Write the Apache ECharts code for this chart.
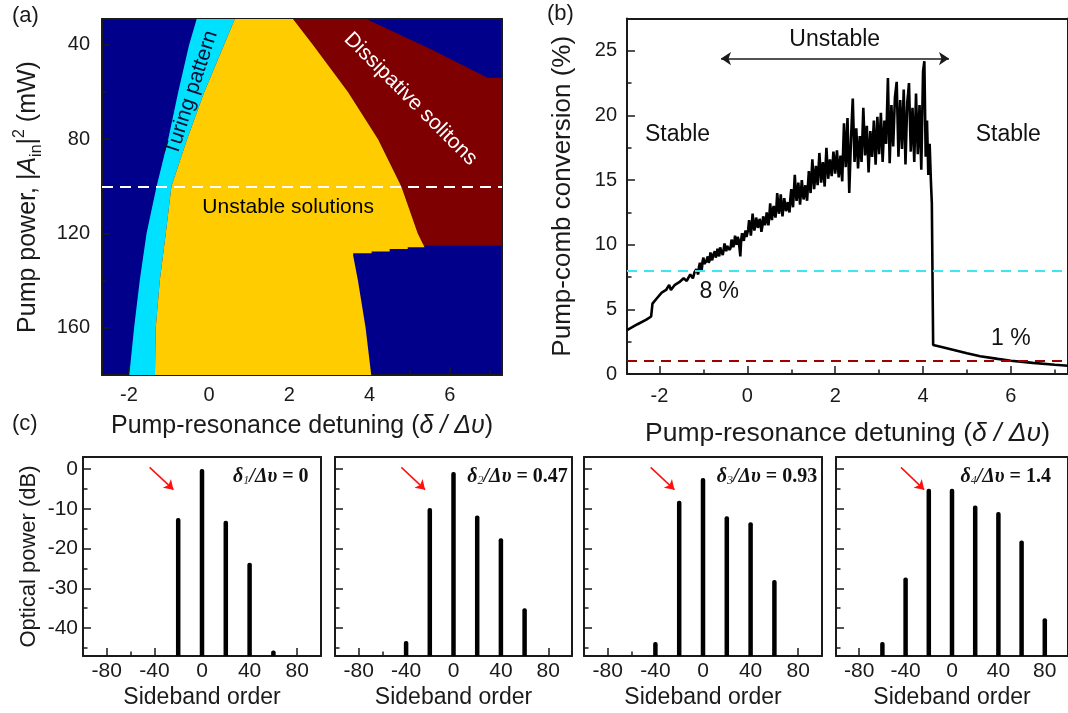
<!DOCTYPE html>
<html>
<head>
<meta charset="utf-8">
<script src="https://cdn.jsdelivr.net/npm/echarts@6/dist/echarts.min.js"></script>
<style>
  html, body { margin: 0; padding: 0; background: #fff; }
  #main { width: 1068px; height: 713px; }
</style>
</head>
<body>
<div id="main"></div>
<script>
const ink = '#1a1a1a';
const sans = '"Liberation Sans", Arial, sans-serif';
const serif = '"Liberation Serif", "Times New Roman", serif';

// (a) phase diagram: detuning of each region boundary at a given pump power (mW)
const powerLevels = [29, 40, 60, 80, 100, 120, 140, 160, 180];
const turingLeft  = [-0.31, -0.50, -0.77, -1.02, -1.31, -1.56, -1.73, -1.87, -1.99];
const turingRight = [0.64, 0.37, -0.12, -0.55, -0.94, -1.08, -1.23, -1.33, -1.35];
const unstableUpperEdge = [[2.09, 29], [2.59, 40], [3.46, 60], [4.21, 80], [4.79, 100], [5.2, 120], [5.37, 125.8]];
const unstableStep = [[4.95, 125.8], [4.95, 126.6], [4.5, 126.6], [4.5, 127.6], [4.05, 127.6], [4.05, 128.4], [3.59, 128.4]];
const unstableLowerEdge = [[3.59, 129.3], [3.71, 140], [3.9, 160], [4.04, 180]];
const solitonUpperEdge = [[3.92, 29], [5.57, 42.2], [6.94, 53.9], [7.3, 53.9]];
const solitonFloor = 125.2;
const scanPower = 100;

// (b) pump-to-comb conversion (%) vs detuning
const conversionCurve = [
  [-2.74, 3.4], [-2.5, 3.85], [-2.3, 4.2], [-2.19, 4.45], [-2.16, 5.45], [-2.05, 5.9], [-1.95, 6.3],
  [-1.85, 6.5], [-1.78, 6.9], [-1.74, 6.5], [-1.65, 6.9], [-1.55, 7.1], [-1.45, 7.4], [-1.38, 7.2],
  [-1.3, 7.7], [-1.24, 7.4], [-1.2, 7.9],
  [-1.16, 8.1], [-1.14, 7.9], [-1.12, 7.7], [-1.1, 8.3], [-1.08, 8.6], [-1.06, 8.2], [-1.04, 8.0],
  [-1.02, 8.7], [-1.0, 9.0], [-0.98, 8.5], [-0.96, 8.4], [-0.94, 8.7], [-0.92, 8.9], [-0.9, 9.1],
  [-0.88, 8.6], [-0.86, 8.8], [-0.84, 9.4], [-0.82, 9.0], [-0.8, 8.8], [-0.78, 9.2], [-0.76, 9.3],
  [-0.74, 9.5], [-0.72, 9.0], [-0.7, 9.2], [-0.68, 9.7], [-0.66, 9.4], [-0.64, 9.1], [-0.62, 9.8],
  [-0.6, 9.6], [-0.58, 9.4], [-0.56, 9.2], [-0.54, 9.6], [-0.52, 10.1], [-0.5, 9.8], [-0.48, 9.5],
  [-0.46, 9.9], [-0.44, 10.0], [-0.42, 9.9], [-0.4, 9.6], [-0.38, 9.8], [-0.36, 10.4], [-0.34, 10.2],
  [-0.32, 9.8], [-0.3, 10.1], [-0.28, 10.7], [-0.26, 10.2], [-0.24, 10.0], [-0.22, 10.6], [-0.2, 10.4],
  [-0.18, 9.8], [-0.16, 9.1], [-0.14, 10.4], [-0.12, 10.9], [-0.1, 10.5], [-0.08, 10.3], [-0.06, 10.8],
  [-0.04, 11.1], [-0.02, 10.6], [0.0, 10.5], [0.02, 11.2], [0.04, 11.9], [0.06, 11.3], [0.08, 10.7],
  [0.1, 11.5], [0.12, 12.4], [0.14, 11.6], [0.16, 11.1], [0.18, 11.5], [0.2, 12.1], [0.22, 11.8],
  [0.24, 11.3], [0.26, 11.5], [0.28, 12.0], [0.3, 11.7], [0.32, 11.0], [0.34, 11.4], [0.36, 12.2],
  [0.38, 11.9], [0.4, 11.5], [0.42, 11.8], [0.44, 12.5], [0.46, 12.1], [0.48, 11.5], [0.5, 12.2],
  [0.52, 13.2], [0.54, 12.4], [0.56, 11.9], [0.58, 12.7], [0.6, 13.0], [0.62, 12.4], [0.64, 12.1],
  [0.66, 12.8], [0.68, 14.0], [0.7, 13.2], [0.72, 12.4], [0.74, 12.9], [0.76, 13.9], [0.78, 13.0],
  [0.8, 12.2], [0.82, 12.9], [0.84, 13.6], [0.86, 13.1], [0.88, 12.6], [0.9, 12.9], [0.92, 13.3],
  [0.94, 12.8], [0.96, 12.5], [0.98, 13.6], [1.0, 14.3], [1.02, 13.4], [1.04, 12.9], [1.06, 14.1],
  [1.08, 15.4], [1.1, 14.2], [1.12, 13.4], [1.14, 14.0], [1.16, 14.8], [1.18, 14.0], [1.2, 13.1],
  [1.22, 14.1], [1.24, 15.0], [1.26, 14.2], [1.28, 13.5], [1.3, 14.0], [1.32, 14.6], [1.34, 13.9],
  [1.36, 13.4], [1.38, 14.6], [1.4, 15.7], [1.42, 14.8], [1.44, 14.0], [1.46, 15.3], [1.48, 16.6],
  [1.5, 15.4], [1.52, 14.3], [1.54, 15.1], [1.56, 16.1], [1.58, 15.4], [1.6, 14.6], [1.62, 15.8],
  [1.64, 17.1], [1.66, 16.0], [1.68, 14.8], [1.7, 15.6], [1.72, 16.4], [1.74, 15.5], [1.76, 14.5],
  [1.78, 16.0], [1.8, 17.5], [1.82, 16.3], [1.84, 15.1], [1.86, 15.8], [1.88, 16.6], [1.9, 16.0],
  [1.92, 15.3], [1.94, 16.2], [1.96, 17.2], [1.98, 16.4], [2.0, 15.5], [2.02, 16.4], [2.04, 17.3],
  [2.06, 16.2], [2.08, 15.2], [2.1, 16.0], [2.12, 16.9], [2.14, 15.8], [2.16, 14.9], [2.18, 17.2],
  [2.2, 19.4], [2.22, 17.6], [2.24, 16.0], [2.26, 18.0], [2.28, 19.8], [2.3, 17.0], [2.32, 14.0],
  [2.34, 16.1], [2.36, 18.2], [2.38, 19.8], [2.4, 21.3], [2.42, 18.8], [2.44, 16.4], [2.46, 17.6],
  [2.48, 19.0], [2.5, 17.4], [2.52, 15.9], [2.54, 17.2], [2.56, 18.4], [2.58, 17.3], [2.6, 16.4],
  [2.62, 18.4], [2.64, 20.6], [2.66, 18.8], [2.68, 16.9], [2.7, 18.0], [2.72, 19.2], [2.74, 17.4],
  [2.76, 15.6], [2.78, 17.2], [2.8, 18.8], [2.82, 17.8], [2.84, 16.8], [2.86, 18.2], [2.88, 19.6],
  [2.9, 17.9], [2.92, 16.2], [2.94, 18.0], [2.96, 19.9], [2.98, 18.4], [3.0, 17.0], [3.02, 18.6],
  [3.04, 20.2], [3.06, 18.3], [3.08, 16.4], [3.1, 18.0], [3.12, 19.6], [3.14, 18.7], [3.16, 17.8],
  [3.18, 20.3], [3.2, 22.9], [3.22, 19.6], [3.24, 16.3], [3.26, 18.5], [3.28, 20.8], [3.3, 19.2],
  [3.32, 17.6], [3.34, 19.5], [3.36, 21.4], [3.38, 22.0], [3.4, 22.6], [3.42, 19.7], [3.44, 16.8],
  [3.46, 19.0], [3.48, 21.2], [3.5, 19.3], [3.52, 17.4], [3.54, 19.7], [3.56, 22.0], [3.58, 19.1],
  [3.6, 16.2], [3.62, 18.6], [3.64, 21.0], [3.66, 21.7], [3.68, 22.5], [3.7, 19.8], [3.72, 17.2],
  [3.74, 18.9], [3.76, 20.6], [3.78, 18.5], [3.8, 16.4], [3.82, 19.0], [3.84, 21.7], [3.86, 19.3],
  [3.88, 17.0], [3.9, 18.9], [3.92, 20.8], [3.94, 18.3], [3.96, 15.8], [3.98, 19.6], [4.0, 23.4],
  [4.03, 24.2], [4.045, 20.5], [4.06, 16.8], [4.075, 18.2], [4.09, 19.6], [4.105, 17.5], [4.12, 15.4],
  [4.135, 16.6], [4.15, 17.8], [4.165, 16.3], [4.18, 14.8], [4.2, 13.2], [4.23, 2.24],
  [4.4, 2.1], [4.7, 1.85], [5.0, 1.6], [5.3, 1.38], [5.7, 1.17], [6.0, 1.03], [6.5, 0.86],
  [7.0, 0.72], [7.3, 0.64]
];
const stableLevel = 8;
const solitonLevel = 1;

// (c) optical spectra (dB) at four detunings
const sidebandOrder = [-60, -40, -20, 0, 20, 40, 60, 80];
const powerDelta1 = [null, null, -12.3, 0, -13.0, -23.6, -45.6, null];
const powerDelta2 = [null, -43.2, -9.8, -0.75, -11.7, -17.4, -35.0, null];
const powerDelta3 = [null, -43.5, -8.0, -2.3, -11.9, -13.4, -27.9, null];
const powerDelta4 = [-43.5, -27.3, -4.95, -4.95, -9.2, -10.8, -18.0, -37.5];
const deltaIndex = ['1', '2', '3', '4'];
const deltaValue = ['0', '0.47', '0.93', '1.4'];
const dbFloor = -47;

const grids = [], xAxes = [], yAxes = [], series = [];

function addGrid(rect, fill) {
  grids.push({
    left: rect[0], top: rect[1], width: rect[2], height: rect[3],
    show: !!fill, backgroundColor: fill || 'transparent', borderWidth: 0
  });
  return grids.length - 1;
}

function titleStyle(size) {
  const small = Math.round(size * 0.62);
  return {
    fontSize: size, fontFamily: sans, color: ink,
    rich: {
      r: { fontSize: size, fontFamily: sans, color: ink, lineHeight: size + 8 },
      i: { fontSize: size, fontFamily: sans, fontStyle: 'italic', color: ink, lineHeight: size + 8 },
      sub: { fontSize: small, fontFamily: sans, color: ink, verticalAlign: 'bottom', lineHeight: small },
      sup: { fontSize: small, fontFamily: sans, color: ink, verticalAlign: 'top', lineHeight: small }
    }
  };
}

// major axis + minor-tick axis + opposite frame line, returns index of the major one
function addAxis(list, gridIndex, s) {
  const base = { gridIndex: gridIndex, type: 'value', min: s.min, max: s.max, inverse: !!s.inverse, splitLine: { show: false } };
  list.push(Object.assign({}, base, {
    position: s.position,
    axisLine: { show: true, onZero: false, lineStyle: { color: ink, width: 2 } },
    axisTick: { show: true, inside: true, length: 8, customValues: s.major, lineStyle: { color: ink, width: 1.5 } },
    axisLabel: { show: s.labels !== false, customValues: s.major, margin: s.labelMargin, fontSize: s.labelSize, fontFamily: sans, color: ink },
    name: s.name || '', nameLocation: 'middle', nameGap: s.nameGap || 0, nameRotate: s.nameRotate || 0,
    nameTextStyle: s.nameStyle
  }));
  const idx = list.length - 1;
  list.push(Object.assign({}, base, {
    position: s.position,
    axisLine: { show: false, onZero: false },
    axisTick: { show: true, inside: true, length: 4.5, customValues: s.minor, lineStyle: { color: ink, width: 1.5 } },
    axisLabel: { show: false }
  }));
  list.push(Object.assign({}, base, {
    position: s.frame,
    axisLine: { show: true, onZero: false, lineStyle: { color: ink, width: 2 } },
    axisTick: { show: false }, axisLabel: { show: false }
  }));
  return idx;
}

function regionSeries(xi, yi, points, color) {
  return {
    type: 'custom', xAxisIndex: xi, yAxisIndex: yi, silent: true, clip: true,
    data: points,
    renderItem: function (params, api) {
      if (params.dataIndex !== 0) return null;
      return {
        type: 'polygon',
        shape: { points: points.map(function (p) { return api.coord(p); }) },
        style: { fill: color }
      };
    }
  };
}

function textSeries(xi, yi, items, extra) {
  return Object.assign({
    type: 'scatter', xAxisIndex: xi, yAxisIndex: yi, silent: true, symbolSize: 0,
    itemStyle: { color: '#000', opacity: 1 },
    label: { show: true, position: 'inside', fontFamily: sans, color: '#111', opacity: 1, textBorderWidth: 0, textShadowBlur: 0 },
    data: items
  }, extra || {});
}

// ---------- (a) ----------
const gA = addGrid([102, 19, 400, 356], '#00008b');
const axA = addAxis(xAxes, gA, {
  min: -2.67, max: 7.3, position: 'bottom', frame: 'top',
  major: [-2, 0, 2, 4, 6], minor: [-1, 1, 3, 5, 7], labelSize: 20, labelMargin: 10,
  name: '{r|Pump-resonance detuning (}{i|δ / Δυ}{r|)}', nameGap: 35, nameStyle: titleStyle(25)
});
const ayA = addAxis(yAxes, gA, {
  min: 29, max: 180, inverse: true, position: 'left', frame: 'right',
  major: [40, 80, 120, 160], minor: [60, 100, 140], labelSize: 20, labelMargin: 12,
  name: '{r|Pump power, |}{i|A}{sub|in}{r||}{sup|2}{r| (mW)}', nameGap: 57, nameRotate: 90,
  nameStyle: titleStyle(25)
});

const turingBand = turingLeft.map(function (x, i) { return [x, powerLevels[i]]; })
  .concat(turingRight.map(function (x, i) { return [x, powerLevels[i]]; }).reverse());
const unstableRegion = turingRight.map(function (x, i) { return [x, powerLevels[i]]; })
  .concat(unstableLowerEdge.slice().reverse(), unstableStep.slice().reverse(), unstableUpperEdge.slice().reverse());
const solitonRegion = unstableUpperEdge.concat([[5.37, solitonFloor], [7.3, solitonFloor]], solitonUpperEdge.slice().reverse());

series.push(regionSeries(axA, ayA, solitonRegion, '#7f0000'));
series.push(regionSeries(axA, ayA, turingBand, '#00e1ff'));
series.push(regionSeries(axA, ayA, unstableRegion, '#ffcc00'));
series.push(textSeries(axA, ayA, [
  { value: [-0.44, 60.4], label: { formatter: 'Turing pattern', rotate: 72, fontSize: 21, color: '#0d0d33' } },
  { value: [5.02, 62.9], label: { formatter: 'Dissipative solitons', rotate: -45, fontSize: 21, color: '#ffffff' } },
  { value: [1.97, 108.9], label: { formatter: 'Unstable solutions', fontSize: 21, color: '#000' } }
], {
  markLine: {
    silent: true, symbol: 'none', label: { show: false },
    lineStyle: { color: '#ffffff', type: [11, 7], width: 2 },
    data: [{ yAxis: scanPower }]
  }
}));

// ---------- (b) ----------
const gB = addGrid([627, 18.5, 443, 355.5]);
const axB = addAxis(xAxes, gB, {
  min: -2.74, max: 7.3, position: 'bottom', frame: 'top',
  major: [-2, 0, 2, 4, 6], minor: [-1, 1, 3, 5, 7], labelSize: 20, labelMargin: 12,
  name: '{r|Pump-resonance detuning (}{i|δ / Δυ}{r|)}', nameGap: 42, nameStyle: titleStyle(26.5)
});
const ayB = addAxis(yAxes, gB, {
  min: 0, max: 27.5, position: 'left', frame: 'right',
  major: [0, 5, 10, 15, 20, 25], minor: [2.5, 7.5, 12.5, 17.5, 22.5], labelSize: 20, labelMargin: 10,
  name: 'Pump-comb conversion (%)', nameGap: 51, nameRotate: 90, nameStyle: titleStyle(26)
});
series.push({
  type: 'line', xAxisIndex: axB, yAxisIndex: ayB, data: conversionCurve,
  showSymbol: false, silent: true, clip: true,
  lineStyle: { color: '#000', width: 2.6 },
  markLine: {
    silent: true, symbol: 'none', label: { show: false },
    lineStyle: { type: [10, 7], width: 2 },
    data: [
      { yAxis: stableLevel, lineStyle: { color: '#3ee6f2' } },
      { yAxis: solitonLevel, lineStyle: { color: '#a00000' } }
    ]
  }
});
series.push(textSeries(axB, ayB, [
  { value: [-1.59, 18.5], label: { formatter: 'Stable', fontSize: 23 } },
  { value: [5.94, 18.5], label: { formatter: 'Stable', fontSize: 23 } },
  { value: [1.99, 25.9], label: { formatter: 'Unstable', fontSize: 23 } },
  { value: [-0.64, 6.4], label: { formatter: '8 %', fontSize: 23 } },
  { value: [6.0, 2.7], label: { formatter: '1 %', fontSize: 23 } }
], {
  markLine: {
    silent: true, symbol: ['arrow', 'arrow'], symbolSize: 10, label: { show: false },
    lineStyle: { color: ink, type: 'solid', width: 1.5 },
    data: [[{ coord: [-0.6, 24.4] }, { coord: [4.59, 24.4] }]]
  }
}));

// ---------- (c) ----------
const spectrumBoxes = [[83, 457, 238, 199], [335, 457, 237, 199], [584, 457, 238, 199], [836, 457, 238, 199]];
const spectrumPowers = [powerDelta1, powerDelta2, powerDelta3, powerDelta4];
const labelAnchor = [89.6, 96.5, 96, 85.3];

spectrumBoxes.forEach(function (box, k) {
  const g = addGrid(box);
  const xi = addAxis(xAxes, g, {
    min: -100, max: 100, position: 'bottom', frame: 'top',
    major: [-80, -40, 0, 40, 80], minor: [-60, -20, 20, 60], labelSize: 21, labelMargin: 5,
    name: 'Sideband order', nameGap: 30, nameStyle: titleStyle(23)
  });
  const yi = addAxis(yAxes, g, {
    min: dbFloor, max: 3, position: 'left', frame: 'right',
    major: [0, -10, -20, -30, -40], minor: [-5, -15, -25, -35, -45], labelSize: 21, labelMargin: 5,
    labels: k === 0,
    name: k === 0 ? 'Optical power (dB)' : '', nameGap: 43, nameRotate: 90, nameStyle: titleStyle(22)
  });
  const lines = sidebandOrder.map(function (o, i) { return [o, spectrumPowers[k][i]]; })
    .filter(function (d) { return d[1] !== null; });
  series.push({
    type: 'custom', xAxisIndex: xi, yAxisIndex: yi, silent: true, clip: true,
    data: lines,
    renderItem: function (params, api) {
      const top = api.coord([api.value(0), api.value(1)]);
      const foot = api.coord([api.value(0), dbFloor]);
      return {
        type: 'rect',
        shape: { x: top[0] - 2.25, y: top[1], width: 4.5, height: foot[1] - top[1], r: [2, 2, 0, 0] },
        style: { fill: '#000' }
      };
    }
  });
  series.push(textSeries(xi, yi, [{
    value: [labelAnchor[k], -1.9],
    label: {
      position: 'left', distance: 0,
      formatter: '{d|δ}{s|' + deltaIndex[k] + '}{d|/Δυ}{n| = ' + deltaValue[k] + '}',
      rich: {
        d: { fontFamily: serif, fontStyle: 'italic', fontWeight: 'bold', fontSize: 20, color: '#111' },
        s: { fontFamily: serif, fontStyle: 'italic', fontSize: 12, color: '#333', verticalAlign: 'bottom', lineHeight: 14 },
        n: { fontFamily: serif, fontWeight: 'bold', fontSize: 20, color: '#111' }
      }
    }
  }], {
    markLine: {
      silent: true, symbol: ['none', 'arrow'], symbolSize: 9, label: { show: false },
      lineStyle: { color: '#ff1010', type: 'solid', width: 1.5 },
      data: [[{ coord: [-44, 0.4] }, { coord: [-24, -5.2] }]]
    }
  }));
});

const chart = echarts.init(document.getElementById('main'));
chart.setOption({
  animation: false,
  backgroundColor: '#ffffff',
  grid: grids,
  xAxis: xAxes,
  yAxis: yAxes,
  graphic: [
    { type: 'text', left: 12, top: 5, style: { text: '(a)', fontSize: 22, fontFamily: sans, fill: ink } },
    { type: 'text', left: 547, top: 3, style: { text: '(b)', fontSize: 22, fontFamily: sans, fill: ink } },
    { type: 'text', left: 12, top: 413, style: { text: '(c)', fontSize: 22, fontFamily: sans, fill: ink } }
  ],
  series: series
});
</script>
</body>
</html>
